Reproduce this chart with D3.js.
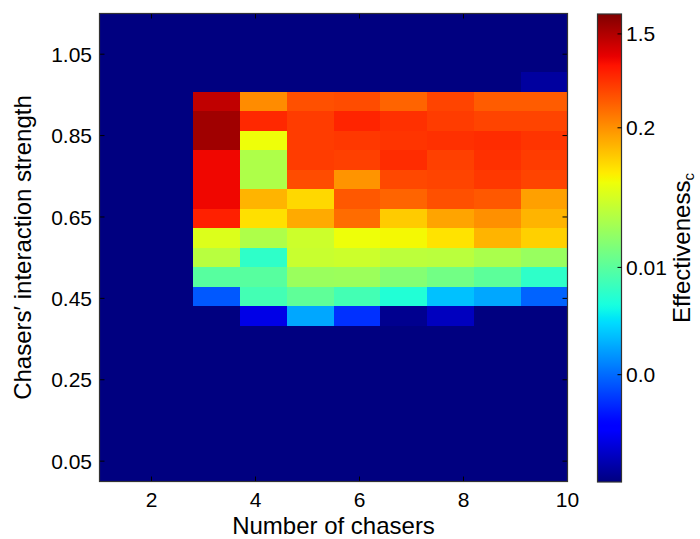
<!DOCTYPE html>
<html>
<head>
<meta charset="utf-8">
<script src="https://cdn.jsdelivr.net/npm/d3@7"></script>
<style>
  html, body { margin: 0; padding: 0; background: #fff; }
  svg { display: block; }
  text { font-family: "Liberation Sans", Arial, Helvetica, sans-serif; fill: #000; }
</style>
</head>
<body>
<svg id="chart" width="700" height="539"></svg>
<script>
// ---------------- data ----------------
const chasers = [1, 2, 3, 4, 5, 6, 7, 8, 9, 10];
const xExtent = [1, 10];          // image extent along "Number of chasers"
const yExtent = [0, 1.15];        // image extent along interaction strength
const xTicks = [2, 4, 6, 8, 10];
const yTicks = [0.05, 0.25, 0.45, 0.65, 0.85, 1.05];
const yTickLabels = ["0.05", "0.25", "0.45", "0.65", "0.85", "1.05"];
const cbarTickValues = [0, 0.01, 0.2, 1.5];
const cbarTickLabels = ["0.0", "0.01", "0.2", "1.5"];
const vmin = -0.01, vmax = 2.3, linthresh = 0.01;
const Z = -0.01;
// rows listed from top (highest strength) to bottom; columns = chasers 1..10
const effectiveness = [
  [Z, Z, Z, Z, Z, Z, Z, Z, Z, Z],
  [Z, Z, Z, Z, Z, Z, Z, Z, Z, Z],
  [Z, Z, Z, Z, Z, Z, Z, Z, Z, Z],
  [Z, Z, Z, Z, Z, Z, Z, Z, Z, -0.0088],
  [Z, Z, 1.31, 0.210, 0.398, 0.416, 0.322, 0.453, 0.351, 0.351],
  [Z, Z, 1.74, 0.61, 0.493, 0.637, 0.56, 0.493, 0.453, 0.453],
  [Z, Z, 1.74, 0.0615, 0.493, 0.514, 0.537, 0.56, 0.585, 0.537],
  [Z, Z, 0.87, 0.0281, 0.493, 0.472, 0.585, 0.472, 0.56, 0.493],
  [Z, Z, 0.87, 0.0281, 0.416, 0.193, 0.434, 0.453, 0.514, 0.453],
  [Z, Z, 0.87, 0.137, 0.094, 0.366, 0.322, 0.398, 0.366, 0.170],
  [Z, Z, 0.665, 0.086, 0.153, 0.296, 0.107, 0.163, 0.202, 0.137],
  [Z, Z, 0.0494, 0.0281, 0.0406, 0.0615, 0.066, 0.083, 0.137, 0.102],
  [Z, Z, 0.0318, 0.0077, 0.0386, 0.0406, 0.0333, 0.0326, 0.0269, 0.0215],
  [Z, Z, 0.0099, 0.0099, 0.022, 0.0226, 0.0169, 0.0135, 0.0104, 0.0077],
  [Z, Z, -0.0008, 0.0088, 0.0107, 0.0088, 0.0070, 0.0037, 0.0026, -0.0003],
  [Z, Z, Z, -0.0061, 0.0026, -0.0025, -0.0094, -0.0076, Z, Z],
  [Z, Z, Z, Z, Z, Z, Z, Z, Z, Z],
  [Z, Z, Z, Z, Z, Z, Z, Z, Z, Z],
  [Z, Z, Z, Z, Z, Z, Z, Z, Z, Z],
  [Z, Z, Z, Z, Z, Z, Z, Z, Z, Z],
  [Z, Z, Z, Z, Z, Z, Z, Z, Z, Z],
  [Z, Z, Z, Z, Z, Z, Z, Z, Z, Z],
  [Z, Z, Z, Z, Z, Z, Z, Z, Z, Z],
  [Z, Z, Z, Z, Z, Z, Z, Z, Z, Z]
];

// ---------------- layout ----------------
const plot = { left: 99.5, right: 567.5, top: 13.5, bottom: 481.5 };
const cbar = { left: 597.5, right: 621.5, top: 14, bottom: 482 };

const svg = d3.select("#chart");

// symmetric-log normalisation (linear within +-linthresh)
function symlog(v) {
  if (v > linthresh) return 1 + Math.log10(v / linthresh);
  if (v < -linthresh) return -1 - Math.log10(-v / linthresh);
  return v / linthresh;
}
const norm = d3.scaleLinear().domain([symlog(vmin), symlog(vmax)]).range([0, 1]).clamp(true);

// matplotlib "jet"
const jr = d3.scaleLinear().domain([0, 0.35, 0.66, 0.89, 1]).range([0, 0, 1, 1, 0.5]).clamp(true);
const jg = d3.scaleLinear().domain([0, 0.125, 0.375, 0.64, 0.91, 1]).range([0, 0, 1, 1, 0, 0]).clamp(true);
const jb = d3.scaleLinear().domain([0, 0.11, 0.34, 0.65, 1]).range([0.5, 1, 1, 0, 0]).clamp(true);
function jet(t) {
  return d3.rgb(Math.round(jr(t) * 255), Math.round(jg(t) * 255), Math.round(jb(t) * 255)).toString();
}

const x = d3.scaleLinear().domain(xExtent).range([plot.left, plot.right]);
const y = d3.scaleLinear().domain(yExtent).range([plot.bottom, plot.top]);

const nRows = effectiveness.length;
const nCols = chasers.length;
const dx = (xExtent[1] - xExtent[0]) / nCols;
const dy = (yExtent[1] - yExtent[0]) / nRows;

const cells = [];
effectiveness.forEach((row, ri) => {
  row.forEach((v, ci) => {
    const rowFromBottom = nRows - 1 - ri;
    cells.push({
      x0: xExtent[0] + ci * dx, x1: xExtent[0] + (ci + 1) * dx,
      y0: yExtent[0] + rowFromBottom * dy, y1: yExtent[0] + (rowFromBottom + 1) * dy,
      v
    });
  });
});

svg.append("g").selectAll("rect").data(cells).join("rect")
  .attr("x", d => x(d.x0))
  .attr("y", d => y(d.y1))
  .attr("width", d => x(d.x1) - x(d.x0) + 0.4)
  .attr("height", d => y(d.y0) - y(d.y1) + 0.4)
  .attr("fill", d => jet(norm(symlog(d.v))))
  .attr("shape-rendering", "crispEdges");

// ticks inside (all four sides)
const tickLen = 5;
const tk = svg.append("g").attr("stroke", "#000").attr("stroke-width", 1);
xTicks.forEach(t => {
  tk.append("line").attr("x1", x(t)).attr("x2", x(t)).attr("y1", plot.bottom).attr("y2", plot.bottom - tickLen);
  tk.append("line").attr("x1", x(t)).attr("x2", x(t)).attr("y1", plot.top).attr("y2", plot.top + tickLen);
});
yTicks.forEach(t => {
  tk.append("line").attr("x1", plot.left).attr("x2", plot.left + tickLen).attr("y1", y(t)).attr("y2", y(t));
  tk.append("line").attr("x1", plot.right).attr("x2", plot.right - tickLen).attr("y1", y(t)).attr("y2", y(t));
});

// frame
svg.append("rect")
  .attr("x", plot.left).attr("y", plot.top)
  .attr("width", plot.right - plot.left).attr("height", plot.bottom - plot.top)
  .attr("fill", "none").attr("stroke", "#333").attr("stroke-width", 1.2);

// tick labels
svg.append("g").selectAll("text").data(xTicks).join("text")
  .attr("x", d => x(d)).attr("y", 507)
  .attr("text-anchor", "middle").attr("font-size", 21)
  .text(d => d);

svg.append("g").selectAll("text").data(yTicks).join("text")
  .attr("x", 92).attr("y", d => y(d)).attr("dy", "0.36em")
  .attr("text-anchor", "end").attr("font-size", 21)
  .text((d, i) => yTickLabels[i]);

// axis titles
svg.append("text")
  .attr("x", (plot.left + plot.right) / 2).attr("y", 534)
  .attr("text-anchor", "middle").attr("font-size", 24)
  .text("Number of chasers");

svg.append("text")
  .attr("transform", `translate(31,${(plot.top + plot.bottom) / 2}) rotate(-90)`)
  .attr("text-anchor", "middle").attr("font-size", 24)
  .text("Chasers\u2032 interaction strength");

// ---------------- colorbar ----------------
const defs = svg.append("defs");
const grad = defs.append("linearGradient").attr("id", "jetgrad")
  .attr("x1", 0).attr("y1", 1).attr("x2", 0).attr("y2", 0);
d3.range(0, 1.0001, 0.01).forEach(t => {
  grad.append("stop").attr("offset", t).attr("stop-color", jet(t));
});
svg.append("rect")
  .attr("x", cbar.left).attr("y", cbar.top)
  .attr("width", cbar.right - cbar.left).attr("height", cbar.bottom - cbar.top)
  .attr("fill", "url(#jetgrad)")
  .attr("stroke", "#333").attr("stroke-width", 1.2);

const cy = d3.scaleLinear().domain([symlog(vmin), symlog(vmax)]).range([cbar.bottom, cbar.top]);
const cbt = svg.append("g");
cbarTickValues.forEach((v, i) => {
  cbt.append("line")
    .attr("x1", cbar.right).attr("x2", cbar.right - 4)
    .attr("y1", cy(symlog(v))).attr("y2", cy(symlog(v)))
    .attr("stroke", "#000");
  cbt.append("text")
    .attr("x", 626).attr("y", cy(symlog(v))).attr("dy", "0.36em")
    .attr("font-size", 21)
    .text(cbarTickLabels[i]);
});

const cl = svg.append("text")
  .attr("transform", `translate(690,${(cbar.top + cbar.bottom) / 2}) rotate(-90)`)
  .attr("text-anchor", "middle").attr("font-size", 24);
cl.append("tspan").text("Effectiveness");
cl.append("tspan").attr("font-size", 15).attr("dy", 4).text("c");
</script>
</body>
</html>
